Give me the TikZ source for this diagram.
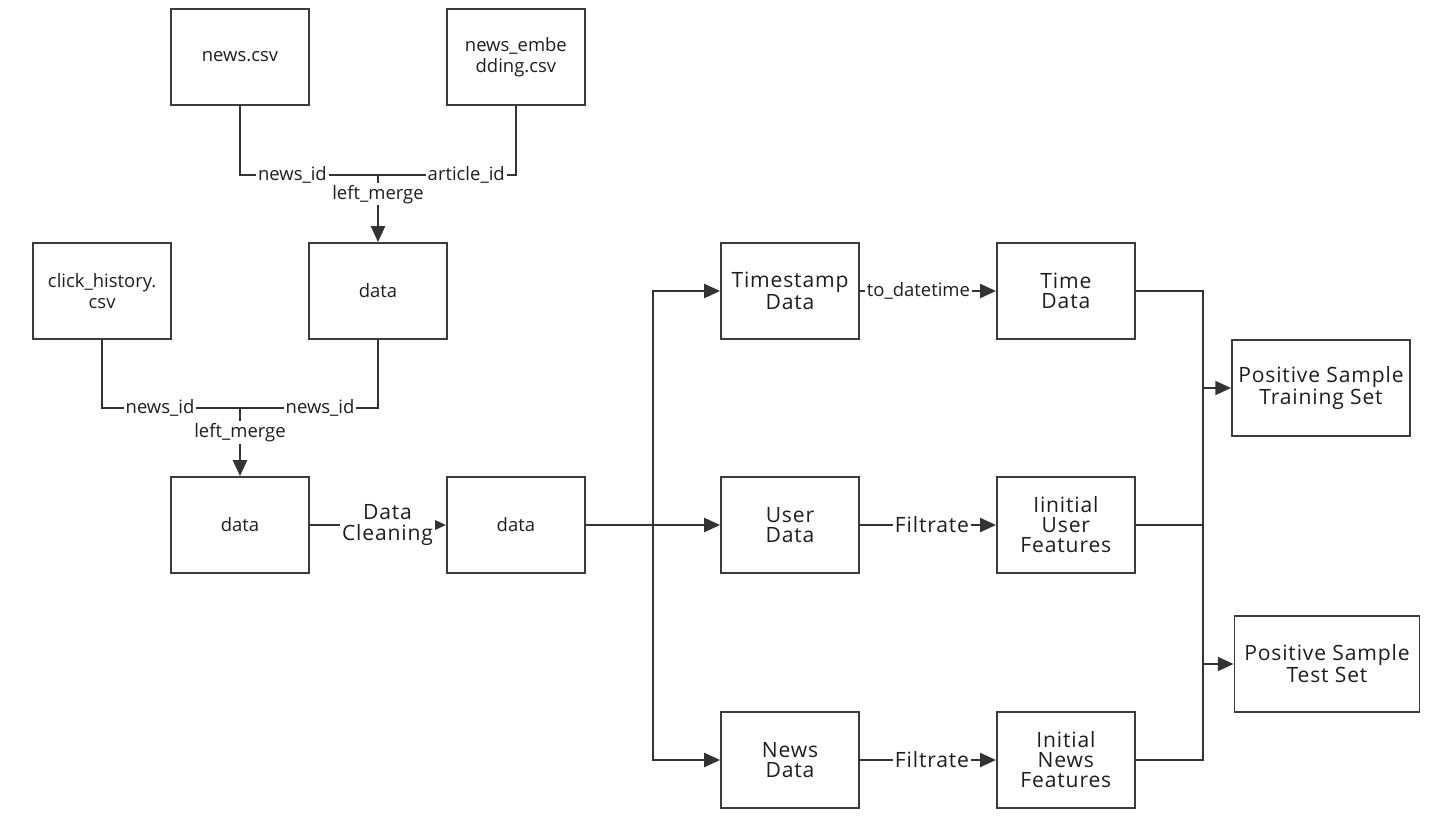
\documentclass[tikz,border=0pt]{standalone}
\usepackage{fontspec}
\setmainfont{Open Sans}
\newfontfamily\spacedfont[LetterSpace=4]{Open Sans}
\usetikzlibrary{arrows.meta,positioning}
\definecolor{linegray}{HTML}{333333}
\definecolor{boxgray}{HTML}{3C3C3C}
\definecolor{txtgray}{HTML}{1E1E1E}

\begin{document}
\begin{tikzpicture}[x=0.02cm,y=-0.02cm,
		line width=1.1pt, color=linegray,
		>={Triangle[length=9pt,width=8pt]}]
				\tikzset{block/.style={draw=boxgray,align=center,minimum width=2.76cm,minimum height=1.92cm,inner sep=0pt,text=txtgray,font=\fontsize{10.5}{12}\selectfont},
					stage/.style={block,font=\spacedfont\fontsize{12}{11.4}\selectfont},
					lbl/.style={fill=white,inner sep=1pt,text=txtgray,font=\fontsize{10.5}{12}\selectfont},
					slbl/.style={lbl,font=\spacedfont\fontsize{12}{11.4}\selectfont}}
				\useasboundingbox (0,0) rectangle (1444,823);
				% source files
				\node [block] (news) at (240,57) {news.csv};
				\node [block, right =2.72cm of news] (emb) {news\_embe\\dding.csv};
				\node [block] (data1) at (378,291) {data};
				\node [block, left =2.72cm of data1] (click) {click\_history.\\csv};
				\node [block] (data2) at (240,525) {data};
				\node [block, right =2.72cm of data2] (data3) {data};
				\coordinate (jn1) at (378,175);
				\coordinate (jn2) at (240,408);
				% merges
				\draw (news.south) |- node[lbl,pos=0.69] {news\_id} (jn1);
				\draw (emb.south) |- node[lbl,pos=0.68] {article\_id} (jn1);
				\draw[->] (jn1) -- node[lbl,pos=0.29] {left\_merge} (data1.north);
				\draw (click.south) |- node[lbl,pos=0.71] {news\_id} (jn2);
				\draw (data1.south) |- node[lbl,pos=0.71] {news\_id} (jn2);
				\draw[->] (jn2) -- node[lbl,pos=0.36] {left\_merge} (data2.north);
				\draw[->] (data2) -- node[slbl,align=center,pos=0.57] {Data\\Cleaning} (data3);
				% feature branches
				\node [stage] (ts) at (790,291) {Timestamp\\Data};
				\node [stage, right =2.72cm of ts] (time) {Time\\Data};
				\node [stage] (user) at (790,525) {User\\Data};
				\node [stage, right =2.72cm of user] (ufeat) {Iinitial\\User\\Features};
				\node [stage] (nd) at (790,760) {News\\Data};
				\node [stage, right =2.72cm of nd] (nfeat) {Initial\\News\\Features};
				\coordinate (sp) at (653,525);
				\draw[->] (data3) -- (user);
				\draw[->] (sp) |- (ts);
				\draw[->] (sp) |- (nd);
				\draw[->] (ts) -- node[lbl,pos=0.43] {to\_datetime} (time);
				\draw[->] (user) -- node[slbl,pos=0.53] {Filtrate} (ufeat);
				\draw[->] (nd) -- node[slbl,pos=0.53] {Filtrate} (nfeat);
				% sample sets
				\node [stage, minimum width=3.56cm] (train) at (1321,388) {Positive Sample\\Training Set};
				\node [stage, minimum width=3.7cm] (test) at (1327,664) {Positive Sample\\Test Set};
				\coordinate (mt) at (1203,291);
				\coordinate (mb) at (1203,760);
				\draw (time.east) -- (mt) -- (mb) -- (nfeat.east);
				\draw (ufeat.east) -- (ufeat.east -| mt);
				\draw[->] (train.west -| mt) -- (train.west);
				\draw[->] (test.west -| mt) -- (test.west);
			\end{tikzpicture}
\end{document}
